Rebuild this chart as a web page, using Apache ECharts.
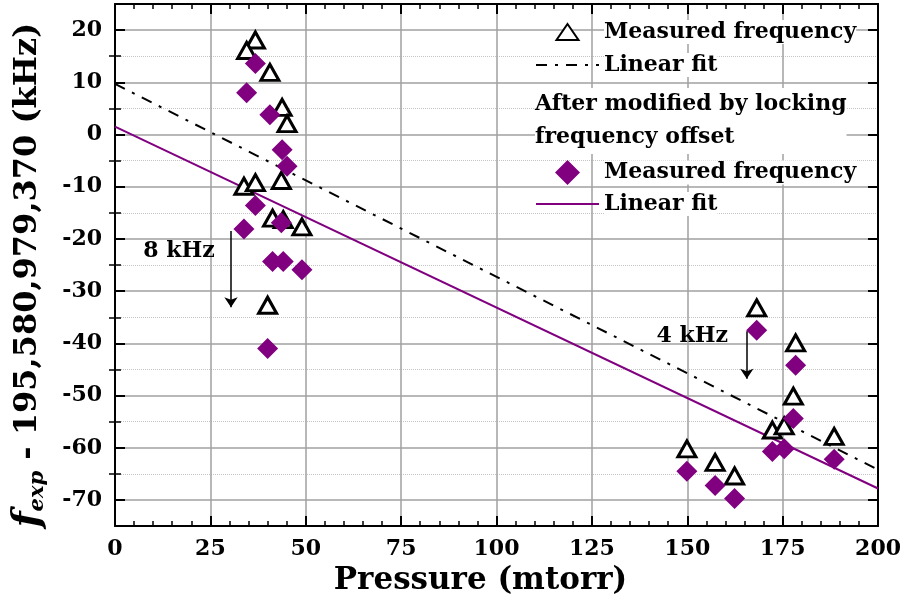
<!DOCTYPE html>
<html><head><meta charset="utf-8">
<script src="https://cdn.jsdelivr.net/npm/echarts@6/dist/echarts.min.js"></script>
<style>html,body{margin:0;padding:0;background:#fff}#c{width:904px;height:601px}</style>
</head><body><div id="c"></div>
<script>
// ---- data ----
const xTicks = [0, 25, 50, 75, 100, 125, 150, 175, 200];
const yMajorTicks = [-70, -60, -50, -40, -30, -20, -10, 0, 10, 20];
const yMinorTicks = [-65, -55, -45, -35, -25, -15, -5, 5, 15];
const pressure = [36.8, 34.5, 40.6, 43.8, 45.1, 33.8, 36.8, 43.6, 41.3, 44.1, 49.0, 40.0,
                  168.2, 178.4, 177.8, 172.3, 175.4, 188.5, 149.9, 157.3, 162.4];
const freqMeasured = [18.1, 16.1, 11.9, 5.2, 2.1, -9.9, -9.2, -8.8, -16.0, -16.3, -17.7, -32.7,
                      -33.2, -39.9, -50.1, -56.6, -55.8, -57.8, -60.2, -62.8, -65.4];
const freqModified = [13.6, 8.0, 3.8, -2.9, -6.1, -18.1, -13.6, -16.9, -24.3, -24.3, -25.9, -41.0,
                      -37.5, -44.2, -54.4, -60.7, -60.2, -62.2, -64.5, -67.2, -69.7];
const fitX = [0, 200];
const fitMeasured = [9.7, -64.2];
const fitModified = [1.5, -67.8];
const annoText = ['8 kHz', '4 kHz'];
const annoX = [16.8, 151.3];
const annoY = [-22.4, -38.7];
const arrowX = [30.4, 165.6];
const arrowFrom = [-18.5, -37.7];
const arrowTo = [-33.1, -46.8];

// ---- chart ----
const FONT = 'DejaVu Serif';
const chart = echarts.init(document.getElementById('c'));
const bold = (size) => ({fontFamily: FONT, fontWeight: 'bold', fontSize: size, color: '#000'});
const axisLine = {show: true, onZero: false, lineStyle: {color: '#000', width: 2}};

const xBase = {
  type: 'value', min: 0, max: 200, interval: 25,
  axisLine: axisLine,
  axisTick: {show: true, inside: true, length: 10, lineStyle: {color: '#000', width: 2}},
  minorTick: {show: true, splitNumber: 5, length: 5, lineStyle: {color: '#000', width: 1.5}},
};
const yBase = {type: 'value', min: -75, max: 25};
const hiddenSymbol = {opacity: 0, color: 'rgba(0,0,0,0)', borderWidth: 0};
// legend icons: the invisible corner points keep the icon box at itemWidth x itemHeight
const triIcon = 'path://M0,0L0,0M63,18L63,18M31.5,1L42.5,17L20.5,17Z';
const diaIcon = 'path://M0,0L0,0M63,25L63,25M31.5,0L44,12.5L31.5,25L19,12.5Z';

const option = {
  animation: false,
  backgroundColor: '#fff',
  grid: {left: 115, right: 25, top: 4, bottom: 74, containLabel: false},
  xAxis: [
    Object.assign({}, xBase, {
      position: 'bottom',
      axisLabel: Object.assign(bold(22), {margin: 12, formatter: v => xTicks.includes(v) ? String(v) : ''}),
      splitLine: {show: true, lineStyle: {color: '#a0a0a0', width: 1.5}},
      name: 'Pressure (mtorr)', nameLocation: 'middle', nameGap: 36,
      nameTextStyle: Object.assign(bold(31), {padding: [0, 32, 0, 0]})
    }),
    Object.assign({}, xBase, {
      position: 'top',
      axisLabel: {show: false},
      splitLine: {show: false}
    })
  ],
  yAxis: [
    Object.assign({}, yBase, {
      position: 'left',
      axisLine: axisLine,
      axisTick: {show: true, inside: true, length: 10, customValues: yMajorTicks, lineStyle: {color: '#000', width: 2}},
      axisLabel: Object.assign(bold(22), {margin: 13, customValues: yMajorTicks}),
      splitLine: {show: true, lineStyle: {color: '#a0a0a0', width: 1.5}}
    }),
    Object.assign({}, yBase, {
      position: 'left',
      axisLine: {show: false},
      axisTick: {show: true, inside: true, length: 6, customValues: yMinorTicks, lineStyle: {color: '#000', width: 1.5}},
      axisLabel: {show: false, customValues: yMinorTicks},
      splitLine: {show: true, lineStyle: {color: '#c4c4c4', width: 1, type: 'dotted'}}
    }),
    Object.assign({}, yBase, {
      position: 'right',
      axisLine: axisLine,
      axisTick: {show: true, inside: true, length: 10, customValues: yMajorTicks, lineStyle: {color: '#000', width: 2}},
      axisLabel: {show: false, customValues: yMajorTicks},
      splitLine: {show: false}
    }),
    Object.assign({}, yBase, {
      position: 'right',
      axisLine: {show: false},
      axisTick: {show: true, inside: true, length: 6, customValues: yMinorTicks, lineStyle: {color: '#000', width: 1.5}},
      axisLabel: {show: false, customValues: yMinorTicks},
      splitLine: {show: false}
    })
  ],
  legend: [
    {
      data: [
        {name: 'Measured frequency', icon: triIcon},
        {name: 'Linear fit', itemStyle: hiddenSymbol}
      ],
      orient: 'vertical', left: 535, top: 20, padding: 0,
      itemWidth: 63, itemHeight: 18, itemGap: 9, selectedMode: false,
      formatter: n => n.trim(),
      textStyle: Object.assign(bold(22), {lineHeight: 24, backgroundColor: '#fff'})
    },
    {
      data: [
        {name: 'Measured frequency ', icon: diaIcon},
        {name: 'Linear fit ', itemStyle: hiddenSymbol}
      ],
      orient: 'vertical', left: 535, top: 160, padding: 0,
      itemWidth: 63, itemHeight: 25, itemGap: 7, selectedMode: false,
      formatter: n => n.trim(),
      textStyle: Object.assign(bold(22), {lineHeight: 24, backgroundColor: '#fff'})
    }
  ],
  graphic: [
    {
      type: 'text', left: 535, top: 88, z: 100,
      style: {
        text: 'After modified by locking\nfrequency offset',
        font: 'bold 22px "DejaVu Serif"',
        lineHeight: 33, fill: '#000', backgroundColor: '#fff'
      }
    },
    {
      type: 'text', x: 28, y: 275, rotation: Math.PI / 2, z: 100,
      style: {
        text: '{f|f}{s|exp}{t| - 195,580,979,370 (kHz)}',
        align: 'center', verticalAlign: 'middle',
        rich: {
          f: {fontFamily: FONT, fontWeight: 'bold', fontStyle: 'italic', fontSize: 37, lineHeight: 40, fill: '#000'},
          s: {fontFamily: FONT, fontWeight: 'bold', fontStyle: 'italic', fontSize: 21, lineHeight: 20, verticalAlign: 'bottom', fill: '#000'},
          t: {fontFamily: FONT, fontWeight: 'bold', fontSize: 32, lineHeight: 40, fill: '#000'}
        }
      }
    }
  ],
  series: [
    {
      name: 'Linear fit', type: 'line', xAxisIndex: 0, yAxisIndex: 0,
      data: fitX.map((x, i) => [x, fitMeasured[i]]),
      symbol: 'none', showSymbol: false, z: 2,
      lineStyle: {color: '#000', width: 2, type: [11, 8, 3, 8]},
      itemStyle: {color: '#000'}
    },
    {
      name: 'Linear fit ', type: 'line', xAxisIndex: 0, yAxisIndex: 0,
      data: fitX.map((x, i) => [x, fitModified[i]]),
      symbol: 'none', showSymbol: false, z: 2,
      lineStyle: {color: '#800080', width: 2},
      itemStyle: {color: '#800080'}
    },
    {
      name: 'Measured frequency', type: 'scatter', xAxisIndex: 0, yAxisIndex: 0,
      data: pressure.map((x, i) => [x, freqMeasured[i]]),
      symbol: 'triangle', symbolSize: [18, 16], z: 3,
      itemStyle: {color: '#fff', borderColor: '#000', borderWidth: 3, opacity: 1}
    },
    {
      name: 'Measured frequency ', type: 'scatter', xAxisIndex: 0, yAxisIndex: 0,
      data: pressure.map((x, i) => [x, freqModified[i]]),
      symbol: 'diamond', symbolSize: 21, z: 4,
      itemStyle: {color: '#800080', opacity: 1}
    },
    {
      name: 'annotations', type: 'scatter', xAxisIndex: 0, yAxisIndex: 0,
      data: annoText.map((t, i) => [annoX[i], annoY[i], t]),
      symbolSize: 1, z: 5, silent: true,
      itemStyle: {opacity: 0},
      label: Object.assign(bold(22), {show: true, position: 'inside', opacity: 1, formatter: p => p.value[2]}),
      markLine: {
        silent: true, symbol: ['none', 'arrow'], symbolSize: 10,
        label: {show: false},
        lineStyle: {color: '#000', width: 1.5, type: 'solid', opacity: 1},
        data: arrowX.map((x, i) => [{coord: [x, arrowFrom[i]]}, {coord: [x, arrowTo[i]]}])
      }
    }
  ]
};
chart.setOption(option);
</script>
</body></html>
